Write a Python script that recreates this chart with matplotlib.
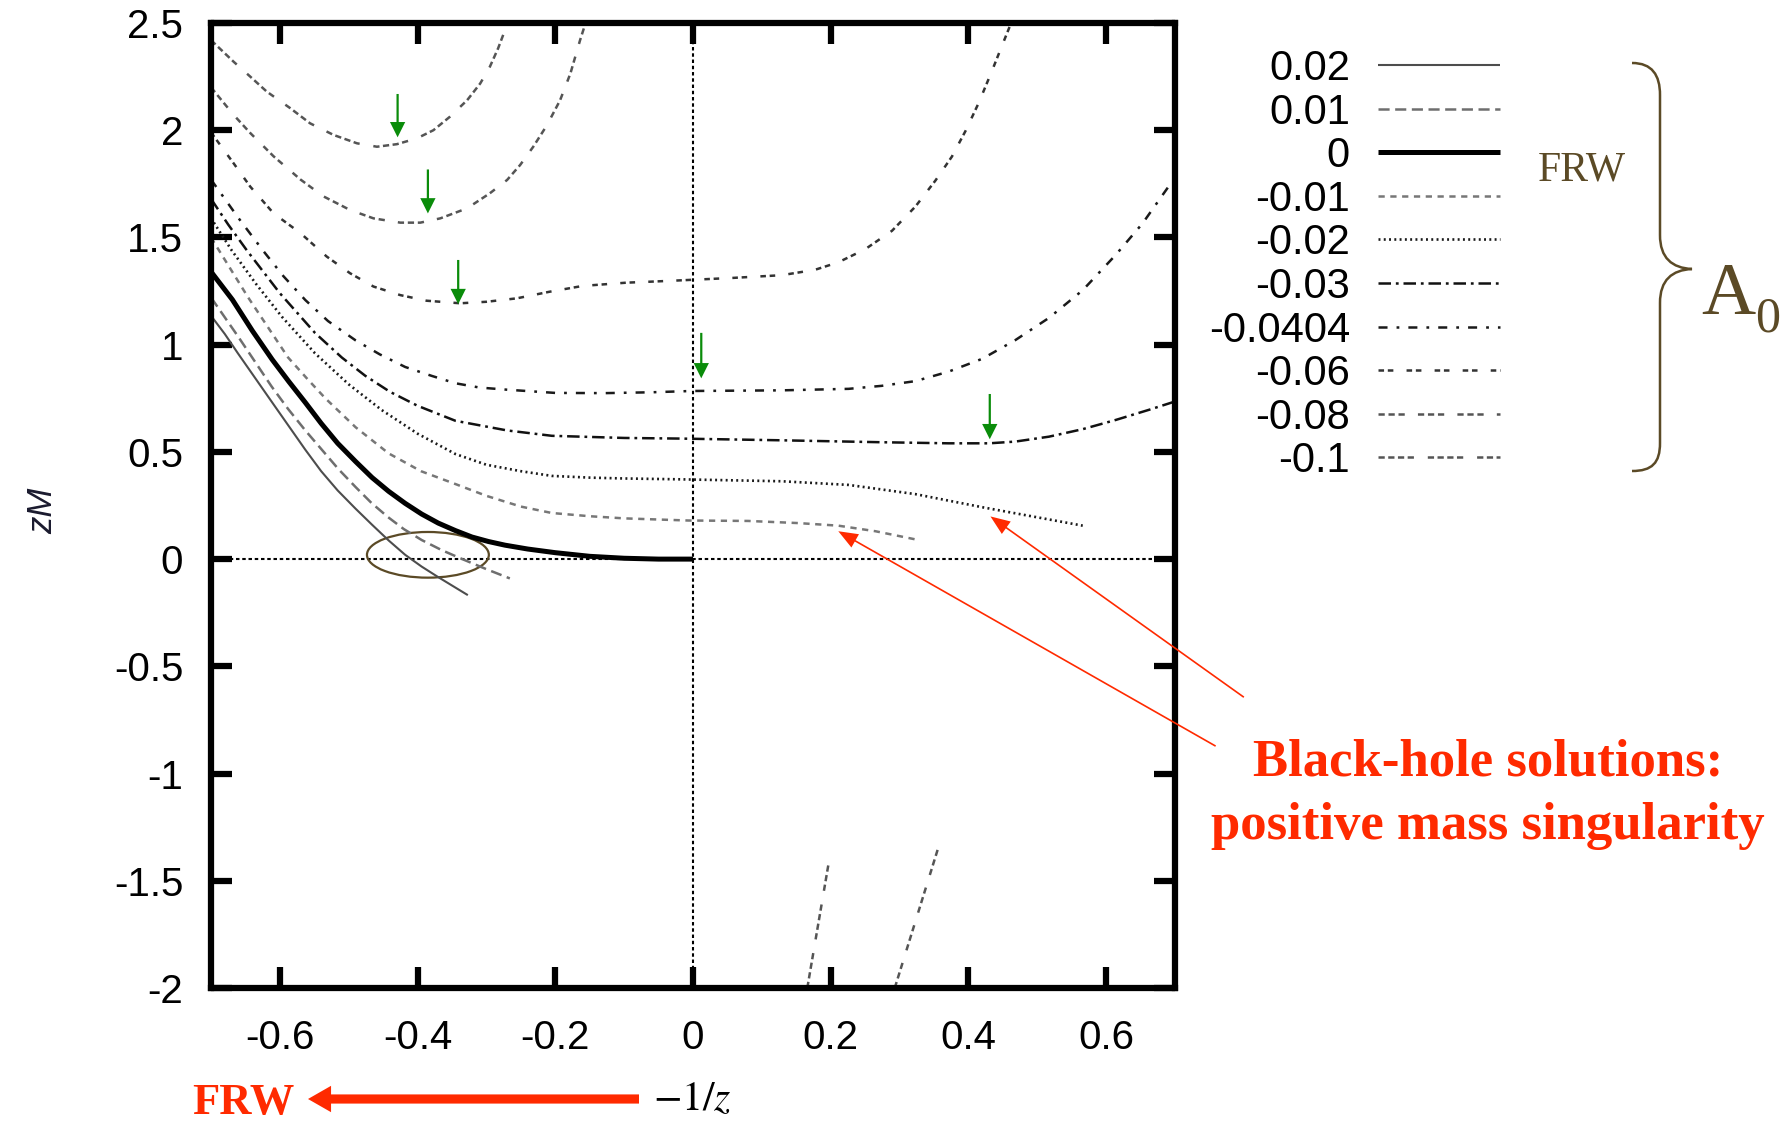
import matplotlib.pyplot as plt
from matplotlib.lines import Line2D
from matplotlib.patches import Ellipse, PathPatch
from matplotlib.path import Path

plt.rcParams['font.family'] = ['Liberation Sans', 'DejaVu Sans']
plt.rcParams['axes.unicode_minus'] = False
plt.rcParams['lines.scale_dashes'] = False
plt.rcParams['mathtext.fontset'] = 'stix'

# A0 values (legend order)
a0_labels = ['0.02', '0.01', '0', '-0.01', '-0.02', '-0.03', '-0.0404', '-0.06', '-0.08', '-0.1']

# curves: x = -1/z, y = zM
x_p02 = [-0.70, -0.68, -0.661, -0.636, -0.611, -0.587, -0.563, -0.54, -0.516, -0.49, -0.466,
         -0.442, -0.418, -0.394, -0.37, -0.348, -0.327]
y_p02 = [1.135, 1.05, 0.96, 0.845, 0.73, 0.62, 0.51, 0.41, 0.32, 0.235, 0.16,
         0.087, 0.02, -0.035, -0.084, -0.127, -0.168]

x_p01 = [-0.70, -0.687, -0.66, -0.636, -0.612, -0.588, -0.563, -0.539, -0.515, -0.49, -0.467,
         -0.443, -0.42, -0.394, -0.365, -0.335, -0.30, -0.266]
y_p01 = [1.22, 1.16, 1.035, 0.92, 0.805, 0.70, 0.60, 0.51, 0.42, 0.336, 0.262,
         0.196, 0.14, 0.089, 0.042, 0.0, -0.047, -0.09]

x_p00 = [-0.70, -0.669, -0.64, -0.611, -0.587, -0.563, -0.54, -0.516, -0.49, -0.466, -0.442,
         -0.418, -0.394, -0.37, -0.345, -0.321, -0.297, -0.273, -0.24, -0.2, -0.15, -0.1, -0.05, 0.0]
y_p00 = [1.34, 1.21, 1.065, 0.93, 0.828, 0.73, 0.633, 0.54, 0.455, 0.38, 0.316,
         0.26, 0.21, 0.168, 0.133, 0.103, 0.082, 0.065, 0.047, 0.03, 0.013, 0.004, 0.0, 0.0]

x_m01 = [-0.70, -0.673, -0.646, -0.617, -0.588, -0.56, -0.534, -0.49, -0.442, -0.395, -0.345,
         -0.30, -0.25, -0.205, -0.15, -0.1, -0.007, 0.08, 0.153, 0.211, 0.265, 0.323]
y_m01 = [1.50, 1.36, 1.22, 1.08, 0.94, 0.84, 0.75, 0.615, 0.493, 0.41, 0.35,
         0.295, 0.245, 0.215, 0.20, 0.19, 0.18, 0.178, 0.168, 0.156, 0.13, 0.092]

x_m02 = [-0.70, -0.67, -0.635, -0.597, -0.549, -0.50, -0.452, -0.40, -0.345, -0.30, -0.25,
         -0.205, -0.15, -0.1, -0.017, 0.129, 0.226, 0.323, 0.42, 0.493, 0.566]
y_m02 = [1.59, 1.44, 1.285, 1.13, 0.96, 0.815, 0.695, 0.585, 0.49, 0.44, 0.41,
         0.388, 0.38, 0.376, 0.372, 0.363, 0.346, 0.303, 0.242, 0.199, 0.156]

x_m03 = [-0.70, -0.675, -0.648, -0.60, -0.549, -0.51, -0.476, -0.44, -0.40, -0.345, -0.27,
         -0.205, -0.1, -0.017, 0.129, 0.274, 0.371, 0.43, 0.468, 0.517, 0.566, 0.614, 0.663, 0.70]
y_m03 = [1.68, 1.56, 1.44, 1.24, 1.055, 0.94, 0.855, 0.78, 0.715, 0.645, 0.60,
         0.575, 0.565, 0.562, 0.554, 0.545, 0.540, 0.54, 0.548, 0.571, 0.606, 0.649, 0.697, 0.735]

x_m0404 = [-0.70, -0.66, -0.625, -0.595, -0.563, -0.53, -0.49, -0.455, -0.418, -0.38, -0.345,
           -0.31, -0.27, -0.2, -0.128, -0.06, -0.002, 0.129, 0.226, 0.274, 0.323, 0.371, 0.42,
           0.468, 0.517, 0.566, 0.614, 0.653, 0.70]
y_m0404 = [1.77, 1.59, 1.441, 1.32, 1.208, 1.11, 1.02, 0.955, 0.896, 0.855, 0.82,
           0.80, 0.79, 0.775, 0.774, 0.778, 0.784, 0.787, 0.794, 0.808, 0.830, 0.874, 0.934,
           1.021, 1.125, 1.254, 1.419, 1.566, 1.78]

x_m06 = [-0.70, -0.667, -0.643, -0.609, -0.57, -0.532, -0.498, -0.464, -0.425, -0.387, -0.338,
         -0.30, -0.256, -0.208, -0.16, -0.097, -0.038, 0.056, 0.129, 0.177, 0.211, 0.25, 0.289,
         0.323, 0.352, 0.376, 0.396, 0.415, 0.434, 0.449, 0.462]
y_m06 = [1.99, 1.845, 1.737, 1.612, 1.52, 1.411, 1.333, 1.271, 1.231, 1.205, 1.193,
         1.20, 1.216, 1.247, 1.274, 1.289, 1.297, 1.311, 1.324, 1.349, 1.384, 1.445, 1.531,
         1.644, 1.765, 1.877, 1.998, 2.128, 2.275, 2.396, 2.5]

x_m08 = [-0.70, -0.667, -0.643, -0.609, -0.57, -0.537, -0.498, -0.464, -0.425, -0.396, -0.367,
         -0.328, -0.295, -0.27, -0.251, -0.232, -0.212, -0.193, -0.178, -0.164, -0.156]
y_m08 = [2.20, 2.071, 1.987, 1.878, 1.77, 1.692, 1.628, 1.589, 1.569, 1.569, 1.589,
         1.636, 1.706, 1.768, 1.838, 1.923, 2.024, 2.14, 2.265, 2.42, 2.5]

x_m10 = [-0.70, -0.667, -0.643, -0.619, -0.585, -0.556, -0.522, -0.488, -0.459, -0.43, -0.401,
         -0.377, -0.353, -0.328, -0.309, -0.295, -0.283, -0.273, -0.271]
y_m10 = [2.42, 2.319, 2.25, 2.18, 2.103, 2.032, 1.978, 1.939, 1.923, 1.935, 1.962,
         2.0, 2.063, 2.14, 2.218, 2.296, 2.382, 2.467, 2.5]

# lower branches near the bottom
x_m10_low = [0.166, 0.197]
y_m10_low = [-2.0, -1.418]
x_m08_low = [0.293, 0.356]
y_m08_low = [-2.0, -1.348]

curves = {
    '0.02': [(x_p02, y_p02)],
    '0.01': [(x_p01, y_p01)],
    '0': [(x_p00, y_p00)],
    '-0.01': [(x_m01, y_m01)],
    '-0.02': [(x_m02, y_m02)],
    '-0.03': [(x_m03, y_m03)],
    '-0.0404': [(x_m0404, y_m0404)],
    '-0.06': [(x_m06, y_m06)],
    '-0.08': [(x_m08, y_m08), (x_m08_low, y_m08_low)],
    '-0.1': [(x_m10, y_m10), (x_m10_low, y_m10_low)],
}

styles = {
    '0.02': dict(color='#4d4d4d', lw=1.5, ls='-'),
    '0.01': dict(color='#6e6e6e', lw=1.8, dashes=(8, 4)),
    '0': dict(color='black', lw=3.6, ls='-'),
    '-0.01': dict(color='#777777', lw=1.8, dashes=(4.5, 4)),
    '-0.02': dict(color='#1a1a1a', lw=1.9, dashes=(1.4, 2.4)),
    '-0.03': dict(color='#111111', lw=1.8, dashes=(9, 3.5, 2, 3.5)),
    '-0.0404': dict(color='#1a1a1a', lw=1.8, dashes=(6.5, 6.5, 2, 6.5)),
    '-0.06': dict(color='#333333', lw=1.8, dashes=(4, 2.7, 4, 9.5)),
    '-0.08': dict(color='#555555', lw=1.8, dashes=(4.5, 2.7, 4.5, 2.7, 4.5, 9.5)),
    '-0.1': dict(color='#555555', lw=1.8, dashes=(4.5, 2.5, 4.5, 2.5, 4.5, 2.5, 4.5, 10)),
}

xtick_vals = [-0.6, -0.4, -0.2, 0, 0.2, 0.4, 0.6]
xtick_labels = ['-0.6', '-0.4', '-0.2', '0', '0.2', '0.4', '0.6']
ytick_vals = [-2, -1.5, -1, -0.5, 0, 0.5, 1, 1.5, 2, 2.5]
ytick_labels = ['-2', '-1.5', '-1', '-0.5', '0', '0.5', '1', '1.5', '2', '2.5']

# green markers at the minima: (x, y_tail, y_tip)
green_arrows = [(-0.429, 2.169, 1.967), (-0.385, 1.817, 1.612), (-0.341, 1.395, 1.189),
                (0.012, 1.055, 0.843), (0.431, 0.770, 0.559)]
# red pointers: (tip, tail) in data units
red_pointers = [((0.432, 0.199), (0.80, -0.644)), ((0.211, 0.130), (0.759, -0.872))]

W, H = 1789, 1121
fig = plt.figure(figsize=(W / 100, H / 100), dpi=100)
ax = fig.add_axes([211 / W, 1 - 988 / H, 964 / W, 965 / H])


def fpos(x, y):
    return x / W, 1 - y / H


ax.axhline(0, color='black', lw=1.5, dashes=(2.5, 2), zorder=1)
ax.axvline(0, color='black', lw=1.5, dashes=(2.5, 2), zorder=1)

for lab in a0_labels:
    for xs, ys in curves[lab]:
        ax.plot(xs, ys, solid_capstyle='butt', **styles[lab])

ax.set_xlim(-0.7, 0.7)
ax.set_ylim(-2, 2.5)
ax.set_xticks(xtick_vals)
ax.set_xticklabels(xtick_labels)
ax.set_yticks(ytick_vals)
ax.set_yticklabels(ytick_labels)
ax.tick_params(direction='in', length=15, width=4.5, top=True, right=True, labelsize=29)
ax.tick_params(axis='x', pad=22)
ax.tick_params(axis='y', pad=20)
for sp in ax.spines.values():
    sp.set_linewidth(4.5)

# green arrows
for gx, gt, gb in green_arrows:
    ax.annotate('', xy=(gx, gb), xytext=(gx, gt),
                arrowprops=dict(arrowstyle='simple,head_length=0.55,head_width=0.55,tail_width=0.08',
                                fc='#0a8c0a', ec='none', mutation_scale=20, shrinkA=0, shrinkB=0))

# ellipse around the crossings
brown = '#5b4a26'
ax.add_patch(Ellipse((-0.385, 0.02), 0.177, 0.213, fill=False, ec=brown, lw=1.6))

# red pointers
red = '#ff2a00'
for tip, tail in red_pointers:
    ax.annotate('', xy=tip, xytext=tail, annotation_clip=False,
                arrowprops=dict(arrowstyle='simple,head_length=0.7,head_width=0.55,tail_width=0.06',
                                fc=red, ec='none', mutation_scale=20, shrinkA=0, shrinkB=0))

# legend drawn by hand so the rows sit as tight as in the original
for i, lab in enumerate(a0_labels):
    yrow = 65 + i * 43.6
    fig.text(*fpos(1350, yrow + 15), lab, ha='right', va='baseline', fontsize=30)
    fig.add_artist(Line2D([1378 / W, 1500 / W], [1 - yrow / H] * 2, transform=fig.transFigure,
                          solid_capstyle='butt', **styles[lab]))

# brace and A0
verts = [(1632, 63), (1652, 63), (1660, 75), (1660, 95), (1660, 235),
         (1660, 258), (1672, 268), (1692, 269),
         (1672, 270), (1660, 280), (1660, 303), (1660, 443),
         (1660, 463), (1652, 471), (1632, 471)]
codes = [Path.MOVETO, Path.CURVE4, Path.CURVE4, Path.CURVE4, Path.LINETO,
         Path.CURVE4, Path.CURVE4, Path.CURVE4,
         Path.CURVE4, Path.CURVE4, Path.CURVE4, Path.LINETO,
         Path.CURVE4, Path.CURVE4, Path.CURVE4]
brace = Path([fpos(x, y) for x, y in verts], codes)
fig.add_artist(PathPatch(brace, transform=fig.transFigure, fill=False, ec=brown, lw=1.8))

serif = ['Liberation Serif', 'DejaVu Serif']
fig.text(*fpos(1701, 314), 'A', family=serif, fontsize=54, color=brown, ha='left', va='baseline')
fig.text(*fpos(1755, 331), '0', family=serif, fontsize=36, color=brown, ha='left', va='baseline')
fig.text(*fpos(1538, 180), 'FRW', family=serif, fontsize=30, color=brown, ha='left', va='baseline')

# red caption
fig.text(*fpos(1488, 776), 'Black-hole solutions:', family=serif, fontsize=38, weight='bold',
         color=red, ha='center', va='baseline')
fig.text(*fpos(1488, 839), 'positive mass singularity', family=serif, fontsize=38, weight='bold',
         color=red, ha='center', va='baseline')

# axis labels
fig.text(*fpos(43, 511), 'zM', style='italic', fontsize=25, color='#1a1a2e',
         rotation=90, ha='center', va='center')
fig.text(*fpos(692, 1099), '$-1/z$', fontsize=30, ha='center', va='center')

# big FRW arrow at the bottom
ax.annotate('', xy=fpos(308, 1099), xytext=fpos(639, 1099), xycoords='figure fraction',
            textcoords='figure fraction', annotation_clip=False,
            arrowprops=dict(arrowstyle='simple,head_length=0.83,head_width=0.95,tail_width=0.33',
                            fc=red, ec='none', mutation_scale=20, shrinkA=0, shrinkB=0))
fig.text(*fpos(192, 1114), 'FRW', family=serif, fontsize=32, weight='bold', color=red,
         ha='left', va='baseline')

fig.savefig('out.png', dpi=100)
